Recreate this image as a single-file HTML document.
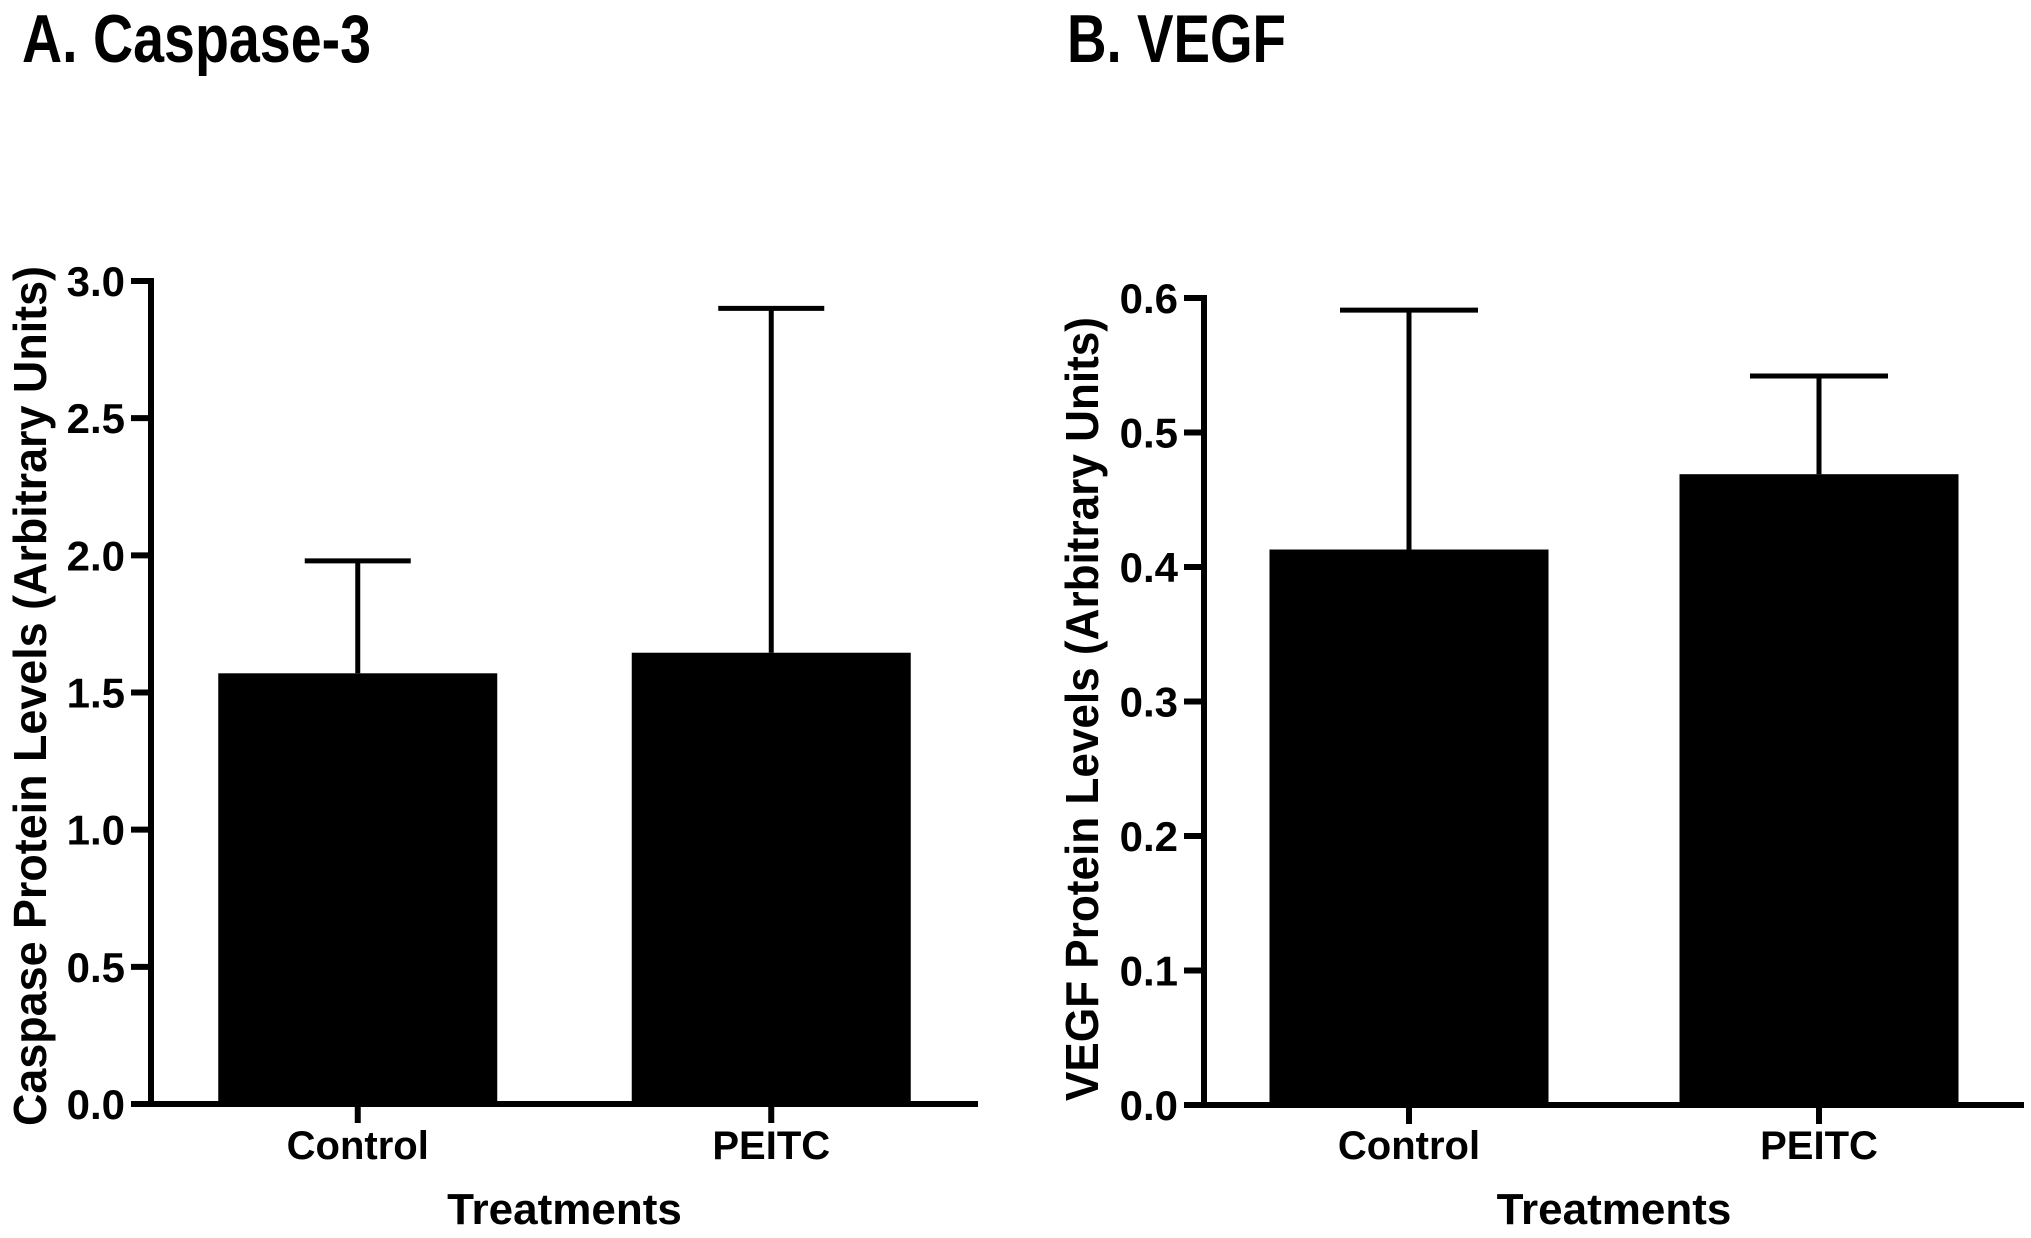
<!DOCTYPE html>
<html><head><meta charset="utf-8"><style>
html,body{margin:0;padding:0;background:#fff;}
svg{display:block;font-family:"Liberation Sans",Arial,sans-serif;font-weight:bold;}
</style></head><body>
<svg id="fig" width="2031" height="1238" viewBox="0 0 2031 1238" xmlns="http://www.w3.org/2000/svg">
<text x="22" y="62" font-size="68" textLength="349" lengthAdjust="spacingAndGlyphs">A. Caspase-3</text>
<text x="1067" y="62" font-size="68" textLength="219" lengthAdjust="spacingAndGlyphs">B. VEGF</text>
<g id="chartA"></g>
<g id="chartB"></g>
</svg>
<script>
const categories = ["Control", "PEITC"];
const caspaseValues = [1.57, 1.645];
const caspaseErrors = [0.41, 1.255];
const caspaseTicks = ["0.0","0.5","1.0","1.5","2.0","2.5","3.0"];
const vegfValues = [0.413, 0.469];
const vegfErrors = [0.178, 0.073];
const vegfTicks = ["0.0","0.1","0.2","0.3","0.4","0.5","0.6"];

const NS = "http://www.w3.org/2000/svg";
function mk(parent, tag, attrs, text) {
  const e = document.createElementNS(NS, tag);
  for (const k in attrs) e.setAttribute(k, attrs[k]);
  if (text !== undefined) e.textContent = text;
  parent.appendChild(e);
  return e;
}
function draw(g, cfg, values, errors, ticks, ytitle) {
  const yMax = parseFloat(ticks[ticks.length - 1]);
  const y = v => cfg.y0 - (v / yMax) * (cfg.y0 - cfg.yTop);
  const slot = (cfg.xEnd - cfg.ax) / categories.length;
  const xc = i => cfg.ax + slot * (i + 0.5);
  const bw = cfg.bw;
  values.forEach((v, i) => {
    const r = mk(g, "rect", {x: xc(i) - bw / 2, y: y(v), width: bw, height: cfg.y0 - y(v), fill: "#000"});
    
    
    const top = y(v + errors[i]);
    const l = mk(g, "line", {x1: xc(i), x2: xc(i), y1: y(v), y2: top, stroke: "#000", "stroke-width": 5});
    
    
    const c = mk(g, "line", {x1: xc(i) - cfg.cap, x2: xc(i) + cfg.cap, y1: top, y2: top, stroke: "#000", "stroke-width": 5});
    
    
    mk(g, "line", {x1: xc(i), x2: xc(i), y1: cfg.y0, y2: cfg.y0 + 19, stroke: "#000", "stroke-width": 6});
    const t = mk(g, "text", {x: xc(i), y: 1159, "font-size": 40, "text-anchor": "middle"}, categories[i]);
    
    
  });
  ticks.forEach(tk => {
    const v = parseFloat(tk);
    mk(g, "line", {x1: cfg.ax - 20, x2: cfg.ax, y1: y(v), y2: y(v), stroke: "#000", "stroke-width": 6});
    const t = mk(g, "text", {x: cfg.ax - 26, y: y(v) + 15, "font-size": 42, "text-anchor": "end"}, tk);
    
    
  });
  const ya = mk(g, "line", {x1: cfg.ax, x2: cfg.ax, y1: cfg.yTop - 3, y2: cfg.y0 + 3, stroke: "#000", "stroke-width": 6});
  
  
  const xa = mk(g, "line", {x1: cfg.ax - 3, x2: cfg.xEnd, y1: cfg.y0, y2: cfg.y0, stroke: "#000", "stroke-width": 6});
  
  
  const xt = mk(g, "text", {x: (cfg.ax + cfg.xEnd) / 2, y: 1224, "font-size": 44, "text-anchor": "middle"}, "Treatments");
  
  
  const yt = mk(g, "text", {x: 0, y: 0, "font-size": 46, "text-anchor": "middle", textLength: cfg.ytl, lengthAdjust: "spacingAndGlyphs", transform: "translate(" + cfg.ytx + "," + cfg.yty + ") rotate(-90)"}, ytitle);
  
  
}
draw(document.getElementById("chartA"), {ax: 151, xEnd: 978, y0: 1104, yTop: 281, bw: 279, cap: 53, ytx: 46, yty: 696, ytl: 860},
  caspaseValues, caspaseErrors, caspaseTicks, "Caspase Protein Levels (Arbitrary Units)");
draw(document.getElementById("chartB"), {ax: 1204, xEnd: 2024, y0: 1105, yTop: 298, bw: 279, cap: 69, ytx: 1098, yty: 709, ytl: 784},
  vegfValues, vegfErrors, vegfTicks, "VEGF Protein Levels (Arbitrary Units)");
</script>
</body></html>
